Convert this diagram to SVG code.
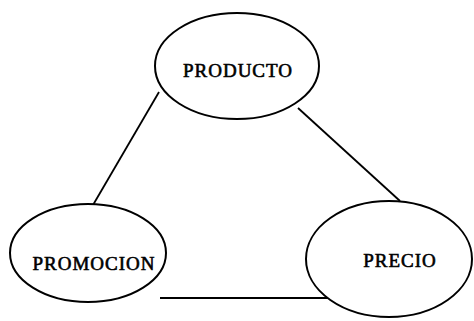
<svg xmlns="http://www.w3.org/2000/svg" width="474" height="321" viewBox="0 0 474 321">
<style>
.n ellipse{fill:#fff;stroke:#000;stroke-width:2}
.n text{font-family:"Liberation Serif","DejaVu Serif",serif;font-size:19px;letter-spacing:1px;text-anchor:middle;dominant-baseline:central;fill:#000;stroke:#000;stroke-width:0.6}
.c line{stroke:#000;stroke-width:1.8}
</style>
<rect width="474" height="321" fill="#fff"/>
<g id="connectors" class="c">
<line x1="159" y1="92" x2="93" y2="205"/>
<line x1="298" y1="108" x2="400" y2="201"/>
<line x1="160" y1="298" x2="332" y2="298"/>
</g>
<g id="producto" class="n">
<ellipse cx="237" cy="66" rx="82" ry="53"/>
<text x="238" y="70">PRODUCTO</text>
</g>
<g id="promocion" class="n">
<ellipse cx="88" cy="253" rx="78" ry="49"/>
<text x="94" y="263">PROMOCION</text>
</g>
<g id="precio" class="n">
<ellipse cx="389" cy="259" rx="83" ry="58"/>
<text x="400" y="260">PRECIO</text>
</g>
</svg>
